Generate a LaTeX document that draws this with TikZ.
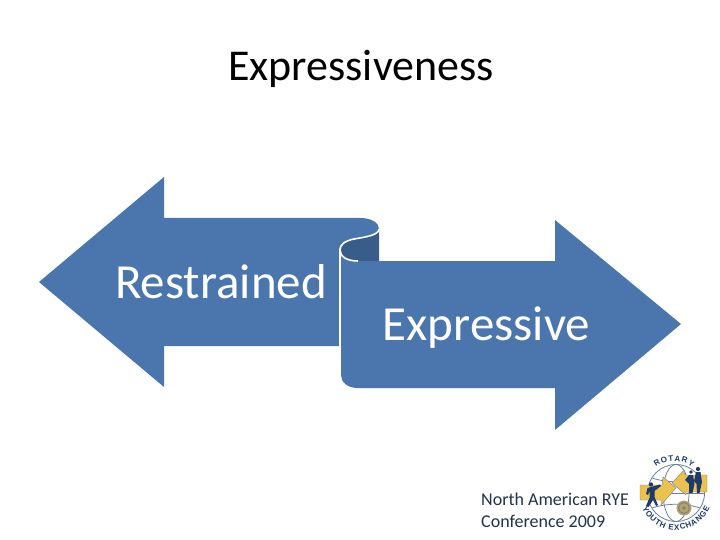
\documentclass[tikz,border=0pt]{standalone}
\usepackage{fontspec}
\setmainfont{Carlito}
\newfontfamily\logofont{Liberation Sans}
\usetikzlibrary{decorations.text}
\definecolor{arrowblue}{HTML}{4A76AD}
\definecolor{curldark}{HTML}{385D8A}
\definecolor{logoyellow}{HTML}{EBC24E}
\definecolor{logonavy}{HTML}{1F3A68}
\definecolor{logogrey}{HTML}{6F80A0}
\definecolor{wheelgold}{HTML}{B9A45E}
\definecolor{captionblue}{HTML}{24324A}
\tikzset{
  x=1pt,y=-1pt,
  shapefill/.style={fill=arrowblue,draw=none},
  gap/.style={draw=white,line width=1.6pt},
  globe/.style={draw=logogrey,line width=0.8pt},
  person/.style={fill=logonavy,draw=none},
  yellowarrow/.style={fill=logoyellow,draw=logogrey,line width=0.4pt},
  bigtext/.style={anchor=base,inner sep=0pt},
  caption/.style={anchor=base west,inner sep=0pt,text=captionblue,font=\fontsize{18}{20}\selectfont}
}
\begin{document}
\begin{tikzpicture}
\useasboundingbox (0,0) rectangle (720,540);
\fill[white] (0,0) rectangle (720,540);
% dark inside of the curl
\fill[curldark] (379,230) .. controls (372,236) and (362,238) .. (352,240)
  .. controls (344,242) and (340,246) .. (340,250)
  .. controls (340,256) and (346,261) .. (357,261) -- (379,261) -- cycle;
% left arrow
\path[shapefill] (39,282) -- (164,177) -- (164,218) -- (360,218)
  .. controls (372,218) and (379,223) .. (379,229)
  .. controls (379,235) and (366,237) .. (354,239)
  .. controls (344,241) and (339,245) .. (339,250)
  -- (339,346) -- (164,346) -- (164,387) -- cycle;
% right arrow
\path[shapefill] (341,250) .. controls (341,256) and (347,261) .. (358,261)
  -- (555,261) -- (555,220) -- (681,324) -- (555,430) -- (555,388) -- (358,388)
  .. controls (347,388) and (341,382) .. (341,375) -- cycle;
% white highlights of the curl
\draw[gap] (379,229) .. controls (379,235) and (366,237) .. (354,239)
  .. controls (344,241) and (340,245) .. (340,250)
  .. controls (340,256) and (346,261) .. (358,261);
\draw[gap,line width=1.2pt] (340,250) -- (340,376);
% texts
\node[bigtext,text=black,font=\fontsize{44}{48}\selectfont] (title) at (361,81) {Expressiveness};
\node[bigtext,text=white,font=\fontsize{49}{52}\selectfont] (restrained) at (221,298) {Restrained};
\node[bigtext,text=white,font=\fontsize{49}{52}\selectfont] (expressive) at (486.5,340) {Expressive};
\node[caption] (line1) at (481,505) {North American RYE};
\node[caption] (line2) at (481,527) {Conference 2009};
% logo: globe
\draw[globe] (676,493) circle (28.5);
\draw[globe] (676,493) ellipse (13 and 28.5);
\draw[globe] (647.5,493) -- (704.5,493);
\draw[globe] (652,478) .. controls (667,483) and (685,483) .. (700,478);
\draw[globe] (652,508) .. controls (667,503) and (685,503) .. (700,508);
% logo: arrows
\draw[yellowarrow] (640,485) -- (662,485) -- (663,477) -- (676,488) -- (661,505) -- (661,500) -- (640,500) -- cycle;
\draw[yellowarrow] (707,475) -- (685,475) -- (684,470) -- (672,483) -- (686,495) -- (686,492) -- (707,492) -- cycle;
% logo: figures
\path[person] (651,484.5) circle (2.2);
\path[person] (651,487) -- (647.5,488) -- (646,494) -- (648,495) -- (649.5,491) -- (649.5,498) -- (646,506) -- (648.5,507) -- (653,500) -- (656,506) -- (658,505) -- (654.5,497) -- (654.5,491) -- (661,486) -- (660,484.5) -- cycle;
\path[person] (698,469) circle (2.1);
\path[person] (696,472) -- (700.5,472) -- (702,482) -- (699.5,493) -- (697,493) -- (696.5,484) -- (694,481) -- cycle;
\path[person] (691,472) circle (1.9);
\path[person] (689,475) -- (693,475) -- (694.5,484) -- (692.5,493) -- (689,493) -- (689,484) -- (685,480) -- cycle;
% logo: wheel
\fill[wheelgold] (684,508) circle (7.5);
\draw[logogrey,line width=0.9pt] (684,508) circle (5.5);
\fill[logogrey] (684,508) circle (1.8);
% logo: ring text
\path[decorate,decoration={text along path,text align={fit to path},
   text={|\logofont\fontsize{8}{9}\selectfont\bfseries\color{logonavy}|ROTARY}}]
   (656,467) .. controls (665,459.5) and (683,459.5) .. (692,467);
\path[decorate,decoration={text along path,text align={fit to path},
   text={|\logofont\fontsize{8}{9}\selectfont\bfseries\color{logonavy}|YOUTH EXCHANGE}}]
   (642.2,508) .. controls (648.1,521.3) and (661.4,530) .. (676,530)
   .. controls (690.6,530) and (703.9,521.3) .. (709.8,508);
\end{tikzpicture}
\end{document}
